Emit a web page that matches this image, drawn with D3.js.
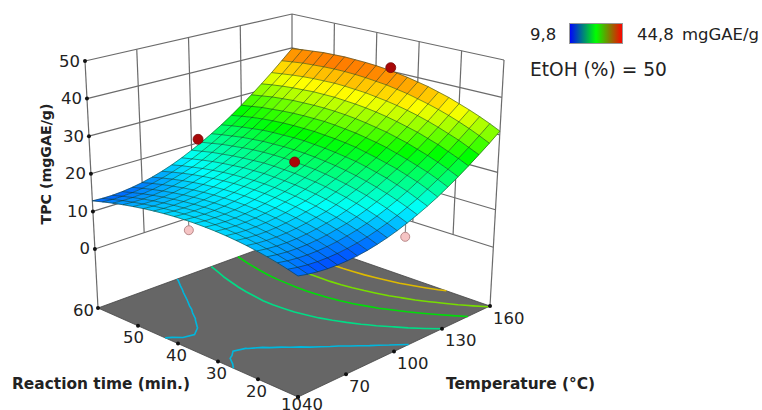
<!DOCTYPE html>
<html>
<head>
<meta charset="utf-8">
<title>TPC response surface</title>
<script src="https://d3js.org/d3.v7.min.js"></script>
<style>
  html, body { margin: 0; padding: 0; background: #fff; }
  svg { display: block; }
  text { font-family: "DejaVu Sans", sans-serif; fill: #222; }
</style>
</head>
<body>
<div id="chart-area"></div>
<script>
/*
*    3D response surface, TPC against temperature and reaction time
*/

const WIDTH = 762
const HEIGHT = 410

// Data
const temperatureTicks = [40, 70, 100, 130, 160]
const timeTicks = [60, 50, 40, 30, 20, 10]
const tpcTicks = [0, 10, 20, 30, 40, 50]
const contourLevels = [16.25, 21, 26, 30.6, 36]

// rows go from 10 min. to 60 min., columns from 40 to 160 °C in steps of 6 °C
const tpcRows = [
  [13.00,12.51,12.16,11.96,11.91,12.01,12.25,12.63,13.17,13.85,14.67,15.65,16.77,18.0,19.4,21.0,22.7,24.6,26.6,28.7,31.0],
  [13.71,13.25,12.94,12.78,12.77,12.90,13.18,13.60,14.14,14.85,15.70,16.70,17.85,19.1,20.6,22.2,23.9,25.8,27.8,30.0,32.3],
  [14.35,13.92,13.65,13.52,13.54,13.70,14.02,14.48,15.03,15.77,16.65,17.68,18.85,20.2,21.7,23.3,25.0,26.9,29.0,31.2,33.5],
  [14.91,14.52,14.27,14.18,14.22,14.42,14.77,15.27,15.82,16.59,17.49,18.56,19.76,21.1,22.6,24.2,26.0,28.0,30.0,32.3,34.6],
  [15.39,15.03,14.81,14.74,14.83,15.06,15.43,15.96,16.52,17.32,18.25,19.35,20.57,22.0,23.5,25.1,26.9,28.9,31.0,33.3,35.6],
  [15.80,15.46,15.28,15.24,15.34,15.60,16.01,16.57,17.14,17.97,18.93,20.04,21.30,22.7,24.2,25.9,27.8,29.8,31.9,34.2,36.6],
  [16.13,15.82,15.66,15.64,15.79,16.07,16.50,17.10,17.68,18.54,19.51,20.65,21.94,23.4,24.9,26.7,28.5,30.5,32.7,35.0,37.4],
  [16.39,16.10,15.96,15.98,16.14,16.46,16.91,17.53,18.14,19.01,20.02,21.19,22.49,24.0,25.5,27.3,29.2,31.2,33.4,35.7,38.2],
  [16.57,16.30,16.19,16.23,16.42,16.75,17.24,17.88,18.50,19.40,20.43,21.62,22.95,24.4,26.1,27.8,29.7,31.8,34.0,36.4,38.8],
  [16.67,16.43,16.33,16.39,16.60,16.96,17.47,18.13,18.8,19.7,20.7,22.0,23.3,24.8,26.5,28.3,30.2,32.3,34.5,36.9,39.4],
  [16.70,16.47,16.40,16.47,16.70,17.09,17.61,18.30,19.0,19.9,21.0,22.2,23.6,25.1,26.8,28.6,30.6,32.7,34.9,37.4,39.9],
  [16.65,16.44,16.38,16.48,16.73,17.12,17.67,18.38,19.1,20.0,21.1,22.4,23.8,25.3,27.0,28.9,30.9,33.0,35.3,37.7,40.3],
  [16.53,16.34,16.30,16.41,16.66,17.08,17.65,18.37,19.1,20.1,21.2,22.5,23.9,25.5,27.2,29.1,31.1,33.2,35.5,38.0,40.6],
  [16.33,16.15,16.12,16.24,16.52,16.95,17.54,18.28,19.0,20.0,21.2,22.5,23.9,25.5,27.2,29.1,31.2,33.4,35.7,38.2,40.8],
  [16.05,15.88,15.86,16.00,16.29,16.73,17.33,18.08,18.84,19.9,21.0,22.4,23.8,25.4,27.2,29.1,31.2,33.4,35.8,38.3,40.9],
  [15.70,15.54,15.53,15.67,15.98,16.43,17.05,17.81,18.61,19.6,20.8,22.2,23.7,25.3,27.1,29.0,31.1,33.4,35.7,38.3,41.0],
  [15.27,15.11,15.12,15.28,15.58,16.05,16.67,17.45,18.26,19.3,20.5,21.9,23.4,25.1,26.9,28.8,31.0,33.2,35.6,38.2,40.9],
  [14.77,14.62,14.63,14.79,15.11,15.58,16.21,17.00,17.84,18.9,20.1,21.5,23.1,24.7,26.6,28.5,30.7,33.0,35.4,38.0,40.8],
  [14.19,14.05,14.06,14.22,14.55,15.03,15.67,16.46,17.31,18.4,19.7,21.1,22.6,24.3,26.2,28.2,30.4,32.7,35.1,37.8,40.5],
  [13.53,13.39,13.40,13.57,13.90,14.39,15.03,15.82,16.75,17.8,19.1,20.5,22.1,23.8,25.7,27.7,29.9,32.3,34.7,37.4,40.2],
  [12.80,12.66,12.67,12.85,13.18,13.66,14.31,15.11,16.06,17.2,18.5,19.9,21.5,23.2,25.1,27.2,29.4,31.8,34.3,37.0,39.8]
]
const gridTemperatures = d3.range(21).map(i => 40 + i * 6)
const gridTimes = d3.range(21).map(i => 10 + i * 2.5)

// Design points: above the surface in red, below it in pink
const pointTemperatures = [104, 100, 160, 40, 105]
const pointTimes = [60, 35, 36.5, 36.5, 10]
const pointTpc = [21, 24, 41, 14.4, 12.3]

// Scales
const uScale = d3.scaleLinear().domain([40, 160]).range([0, 1])
const vScale = d3.scaleLinear().domain([10, 60]).range([0, 1])
const zScale = d3.scaleLinear().domain([-15.7, 50]).range([0, 1])
const FLOOR_Z = zScale.domain()[0]
const surfaceColor = d3.scaleLinear()
  .domain([9.8, 17.6, 26.3, 34.3, 44.8])
  .range(["#0000ff", "#00ffff", "#00ff00", "#ffff00", "#ff0000"])

// Box corners on screen, front / right / back / left
const floorCorners = [[298, 397], [490, 306], [292, 237], [98, 308]]
const topCorners = [[298, 120], [504, 60], [292, 14], [85, 61]]

// the tick spacing in the picture is even along every edge, so bilinear is enough
function quadMap(q) {
  return (u, v) => [0, 1].map(k =>
    (1 - u) * (1 - v) * q[0][k] + u * (1 - v) * q[1][k] + u * v * q[2][k] + (1 - u) * v * q[3][k])
}
const floorMap = quadMap(floorCorners)
const topMap = quadMap(topCorners)

function projectUnit(u, v, z) {
  const f = floorMap(u, v)
  const t = topMap(u, v)
  const k = zScale(z)
  return [f[0] + (t[0] - f[0]) * k, f[1] + (t[1] - f[1]) * k]
}
const project = (temperature, time, z) => projectUnit(uScale(temperature), vScale(time), z)

const svg = d3.select("#chart-area").append("svg")
  .attr("width", WIDTH)
  .attr("height", HEIGHT)

svg.append("defs").append("filter").attr("id", "soft")
  .append("feGaussianBlur").attr("stdDeviation", 0.6)

const line = d3.line()
const g = svg.append("g")

// Walls
const wallColor = "#6b6b6b"
const wall = g.append("g").attr("fill", "none").attr("stroke", wallColor).attr("stroke-width", 1.2)

tpcTicks.forEach(z => {
  wall.append("path").attr("d", line([project(40, 60, z), project(160, 60, z), project(160, 10, z)]))
})
temperatureTicks.forEach(T => {
  wall.append("path").attr("d", line([project(T, 60, T === 40 ? FLOOR_Z : 0), project(T, 60, 50)]))
})
timeTicks.forEach(t => {
  if (t === 60) return
  wall.append("path").attr("d", line([project(160, t, t === 10 ? FLOOR_Z : 0), project(160, t, 50)]))
})

// Floor
g.append("path")
  .attr("d", line(floorCorners) + "Z")
  .attr("fill", "#666666")
  .attr("stroke", "#444")
  .attr("stroke-width", 0.8)

// Floor contours
const flatTpc = tpcRows.flat()
const contourPolys = d3.contours().size([21, 21]).thresholds(contourLevels)(flatTpc)
const toGrid = d3.scaleLinear().domain([0.5, 20.5]).range([0, 1]).clamp(true)
const contourGroup = g.append("g").attr("fill", "none").attr("stroke-width", 1.6)

contourPolys.forEach(poly => {
  const stroke = d3.color(surfaceColor(poly.value)).darker(0.4).formatHex()
  poly.coordinates.forEach(rings => rings.forEach(ring => {
    let piece = []
    ring.map(p => [toGrid(p[0]), toGrid(p[1])]).forEach((p, i, pts) => {
      const prev = pts[i - 1]
      const onEdge = prev && (
        (p[0] === prev[0] && (p[0] === 0 || p[0] === 1)) ||
        (p[1] === prev[1] && (p[1] === 0 || p[1] === 1)))
      if (onEdge) {
        if (piece.length > 1) contourGroup.append("path").attr("d", line(piece)).attr("stroke", stroke)
        piece = []
      }
      piece.push(floorMap(p[0], p[1]))
    })
    if (piece.length > 1) contourGroup.append("path").attr("d", line(piece)).attr("stroke", stroke)
  }))
})

// Pink points go behind the surface with their stems
const surfaceAt = (T, t) => tpcRows[Math.round((t - 10) / 2.5)][Math.round((T - 40) / 6)]
const points = pointTemperatures.map((T, i) => ({ T, t: pointTimes[i], z: pointTpc[i] }))
const below = points.filter(d => d.z < surfaceAt(d.T, d.t))
const above = points.filter(d => d.z >= surfaceAt(d.T, d.t))

g.selectAll(".stem").data(below).enter().append("path")
  .attr("class", "stem")
  .attr("d", d => line([project(d.T, d.t, d.z), project(d.T, d.t, surfaceAt(d.T, d.t))]))
  .attr("stroke", "#888")
  .attr("stroke-width", 1.2)

g.selectAll(".low").data(below).enter().append("circle")
  .attr("class", "low")
  .attr("cx", d => project(d.T, d.t, d.z)[0])
  .attr("cy", d => project(d.T, d.t, d.z)[1])
  .attr("r", 4.5)
  .attr("fill", "#f5c4c4")
  .attr("stroke", "#b98a8a")
  .attr("stroke-width", 1)

// Surface cells, back corner first
const cells = []
for (let j = 19; j >= 0; j--) {
  for (let i = 19; i >= 0; i--) {
    cells.push({ i, j })
  }
}
const corner = (i, j) => project(gridTemperatures[i], gridTimes[j], tpcRows[j][i])
const cellColor = d => surfaceColor(d3.mean([
  tpcRows[d.j][d.i], tpcRows[d.j][d.i + 1], tpcRows[d.j + 1][d.i + 1], tpcRows[d.j + 1][d.i]
]))

g.append("g").attr("filter", "url(#soft)").selectAll("path").data(cells).enter().append("path")
  .attr("d", d => line([
    corner(d.i, d.j), corner(d.i + 1, d.j), corner(d.i + 1, d.j + 1), corner(d.i, d.j + 1)
  ]) + "Z")
  .attr("fill", cellColor)
  .attr("stroke", cellColor)
  .attr("stroke-width", 0.5)

// Surface mesh
const mesh = g.append("g")
  .attr("fill", "none")
  .attr("stroke", "#10301a")
  .attr("stroke-opacity", 0.55)
  .attr("stroke-width", 0.95)
d3.range(21).forEach(k => {
  mesh.append("path").attr("d", line(d3.range(21).map(i => corner(i, k))))
  mesh.append("path").attr("d", line(d3.range(21).map(j => corner(k, j))))
})

g.selectAll(".high").data(above).enter().append("circle")
  .attr("class", "high")
  .attr("cx", d => project(d.T, d.t, d.z)[0])
  .attr("cy", d => project(d.T, d.t, d.z)[1])
  .attr("r", 5)
  .attr("fill", "#a80808")
  .attr("stroke", "#7a0a0a")
  .attr("stroke-width", 0.8)

// Tick dots and labels
const tickDots = g.append("g").attr("fill", "#111")
const labels = g.append("g").attr("font-size", "16.5px").attr("dominant-baseline", "central")

tpcTicks.forEach(z => {
  const p = project(40, 60, z)
  tickDots.append("circle").attr("cx", p[0]).attr("cy", p[1]).attr("r", 2)
  labels.append("text").attr("x", p[0] - 5).attr("y", p[1]).attr("text-anchor", "end").text(z)
})
timeTicks.forEach(t => {
  const p = project(40, t, FLOOR_Z)
  tickDots.append("circle").attr("cx", p[0]).attr("cy", p[1]).attr("r", 2)
  const dx = t === 60 ? -4 : t === 10 ? 4 : t === 50 ? 6 : 9
  const dy = t === 60 ? 2 : t === 10 ? 7 : 12
  labels.append("text").attr("x", p[0] + dx).attr("y", p[1] + dy).attr("text-anchor", "end").text(t)
})
temperatureTicks.forEach(T => {
  const p = project(T, 10, FLOOR_Z)
  tickDots.append("circle").attr("cx", p[0]).attr("cy", p[1]).attr("r", 2)
  const dy = T === 40 ? 7 : 12
  labels.append("text").attr("x", p[0] + (T === 40 ? 4 : 3)).attr("y", p[1] + dy).attr("text-anchor", "start").text(T)
})

// Axis titles
const titles = g.append("g").attr("font-weight", "bold").attr("dominant-baseline", "central")
titles.append("text")
  .attr("transform", "translate(46, 164) rotate(-90)")
  .attr("font-size", "14.2px")
  .attr("text-anchor", "middle")
  .text("TPC (mgGAE/g)")
titles.append("text")
  .attr("x", 101).attr("y", 384)
  .attr("font-size", "15.4px")
  .attr("text-anchor", "middle")
  .text("Reaction time (min.)")
titles.append("text")
  .attr("x", 520.5).attr("y", 384)
  .attr("font-size", "15.4px")
  .attr("text-anchor", "middle")
  .text("Temperature (°C)")

// Legend
const legendStops = ["#0000ff", "#00ff00", "#ff0000"]
const gradient = svg.select("defs").append("linearGradient").attr("id", "legend-ramp")
legendStops.forEach((c, i) => {
  gradient.append("stop").attr("offset", `${i * 50}%`).attr("stop-color", c)
})
svg.append("rect")
  .attr("x", 569.5).attr("y", 23.5).attr("width", 53).attr("height", 20)
  .attr("fill", "url(#legend-ramp)")
  .attr("stroke", "#999")

const legendText = svg.append("g").attr("font-size", "16.5px").attr("dominant-baseline", "central")
legendText.append("text").attr("x", 530).attr("y", 34).text("9,8")
legendText.append("text").attr("x", 637).attr("y", 34).text("44,8")
legendText.append("text").attr("x", 682).attr("y", 34.5).text("mgGAE/g")
legendText.append("text").attr("x", 530).attr("y", 69).attr("font-size", "18.6px").text("EtOH (%) = 50")
</script>
</body>
</html>
